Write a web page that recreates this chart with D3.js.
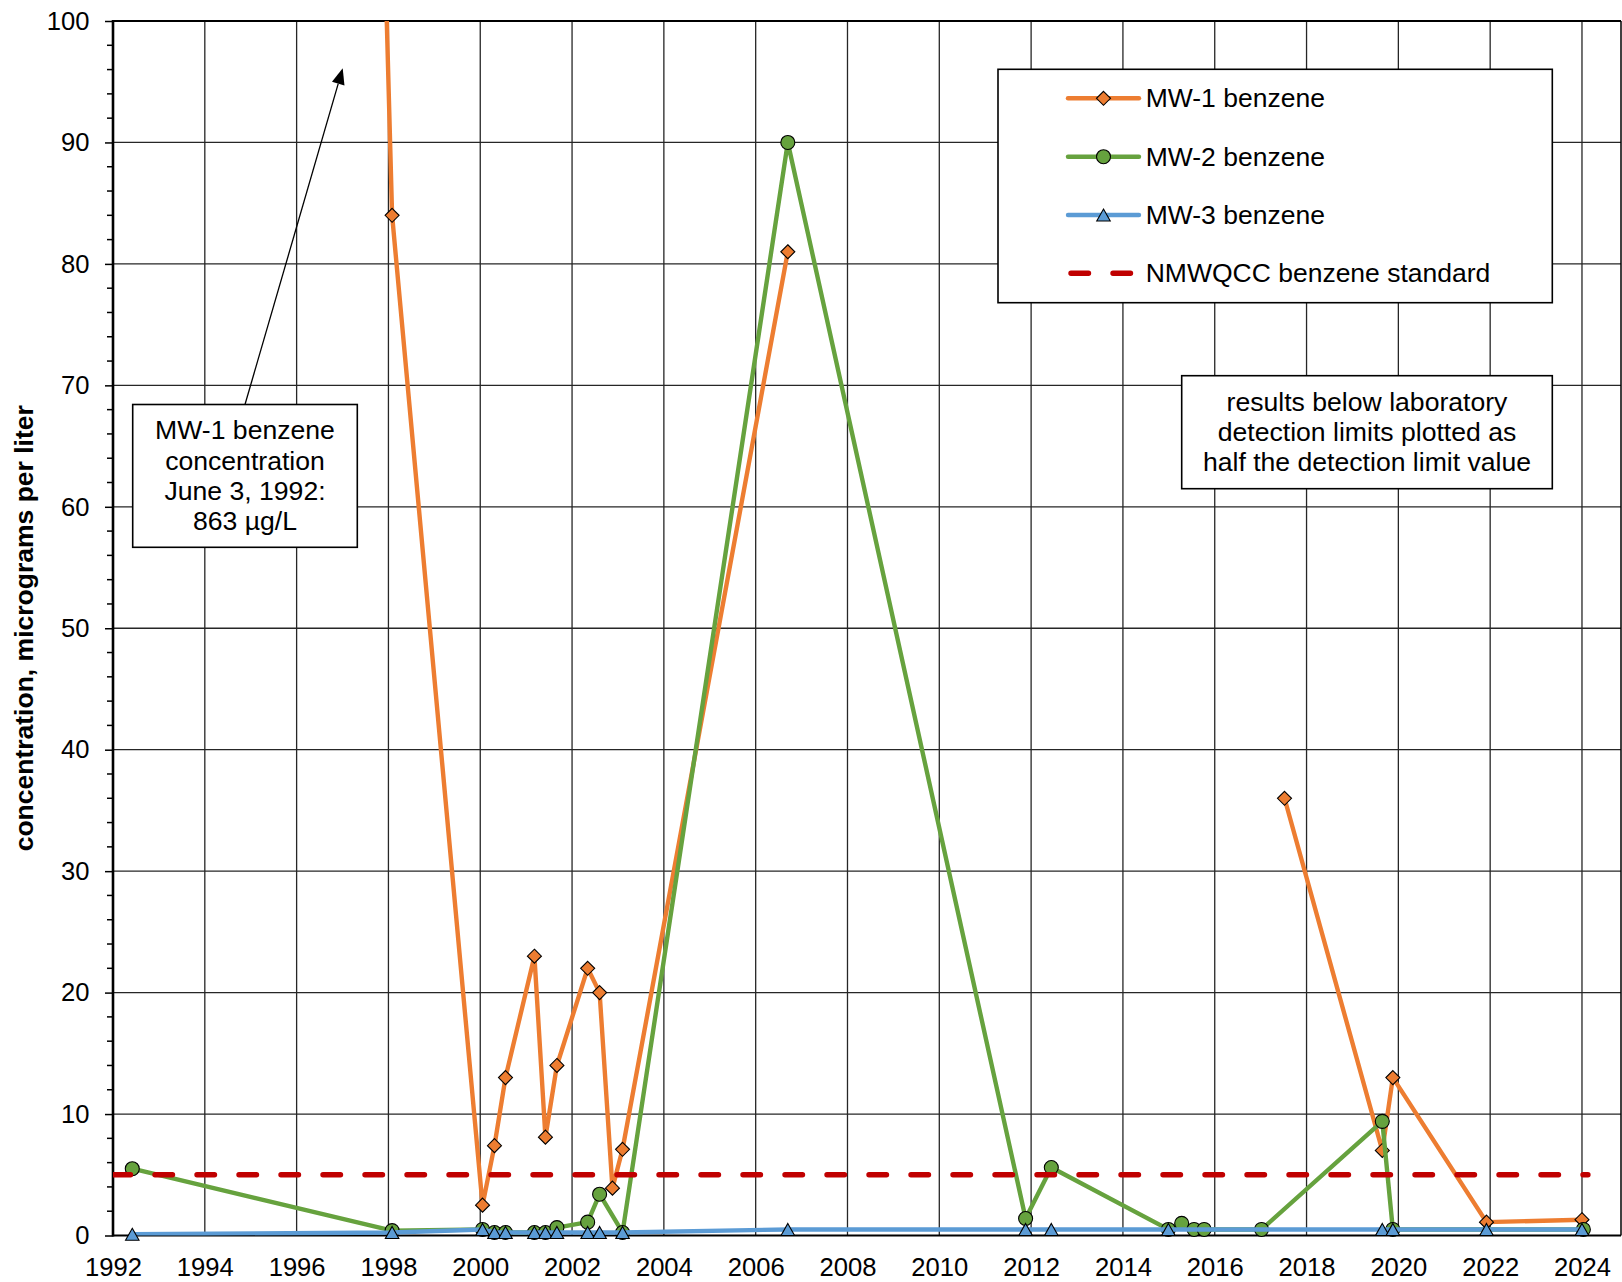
<!DOCTYPE html>
<html><head><meta charset="utf-8">
<script src="https://cdn.jsdelivr.net/npm/d3@7"></script>
<style>
body{margin:0;background:#fff}
svg{display:block}
text{font-family:"Liberation Sans",Arial,sans-serif;fill:#000}
</style>
</head><body>
<svg id="chart" width="1622" height="1282"></svg>
<script>
// ---------- data ----------
const mw1Dates  = [1992.42, 1998.08, 2000.05, 2000.31, 2000.55, 2001.18, 2001.42, 2001.67, 2002.34, 2002.60, 2002.88, 2003.10, 2006.70, 2011.88, 2017.52, 2019.65, 2019.88, 2021.92, 2024.00];
const mw1Values = [863, 84, 2.5, 7.4, 13, 23, 8.1, 14, 22, 20, 3.9, 7.1, 81, null, 36, 7.0, 13, 1.1, 1.3];

const mw2Dates  = [1992.42, 1998.08, 2000.05, 2000.31, 2000.55, 2001.18, 2001.42, 2001.67, 2002.34, 2002.60, 2003.10, 2006.70, 2011.88, 2012.44, 2014.99, 2015.28, 2015.55, 2015.77, 2017.02, 2019.65, 2019.88, 2024.03];
const mw2Values = [5.5, 0.4, 0.5, 0.25, 0.25, 0.25, 0.25, 0.65, 1.1, 3.4, 0.25, 90, 1.4, 5.6, 0.5, 1.0, 0.5, 0.5, 0.5, 9.4, 0.5, 0.5];

const mw3Dates  = [1992.42, 1998.08, 2000.05, 2000.31, 2000.55, 2001.18, 2001.42, 2001.67, 2002.34, 2002.60, 2003.10, 2006.70, 2011.88, 2012.44, 2014.99, 2019.65, 2019.88, 2021.92, 2024.00];
const mw3Values = [0.1, 0.25, 0.5, 0.25, 0.25, 0.25, 0.25, 0.25, 0.25, 0.25, 0.25, 0.5, 0.5, 0.5, 0.5, 0.5, 0.5, 0.5, 0.5];

const stdDates  = [1992.0, 2024.13];
const stdValues = [5, 5];

const xTicks = [1992,1994,1996,1998,2000,2002,2004,2006,2008,2010,2012,2014,2016,2018,2020,2022,2024];
const yTicks = [0,10,20,30,40,50,60,70,80,90,100];
const yMinorTicks = d3.range(0, 100, 2).filter(v => v % 10 !== 0);

const seriesNames = ["MW-1 benzene","MW-2 benzene","MW-3 benzene","NMWQCC benzene standard"];
const yTitle = "concentration, micrograms per liter";
const note1 = ["MW-1 benzene","concentration","June 3, 1992:","863 µg/L"];
const note2 = ["results below laboratory","detection limits plotted as","half the detection limit value"];

// ---------- layout ----------
const L = 113, R = 1621, T = 21, B = 1235.5;
const x = d3.scaleLinear().domain([1992, 2024.85]).range([L, R]);
const y = d3.scaleLinear().domain([0, 100]).range([B, T]);

const COL1 = "#ED7D31", COL2 = "#66A23E", COL3 = "#5B9BD5", COLS = "#C00000";
const LW = 4.4, MS = 7;

const svg = d3.select("#chart");
svg.append("rect").attr("width",1622).attr("height",1282).attr("fill","#fff");

svg.append("defs").append("clipPath").attr("id","plotclip")
  .append("rect").attr("x",L).attr("y",T).attr("width",R-L).attr("height",B-T);

// gridlines
const grid = svg.append("g");
grid.selectAll("line.h").data(yTicks.filter(v=>v>0 && v<100)).join("line")
  .attr("x1",L).attr("x2",R).attr("y1",d=>y(d)).attr("y2",d=>y(d))
  .attr("stroke","#262626").attr("stroke-width",1.3);
grid.selectAll("line.v").data(xTicks.filter(v=>v>1992)).join("line")
  .attr("x1",d=>x(d)).attr("x2",d=>x(d)).attr("y1",T).attr("y2",B)
  .attr("stroke","#262626").attr("stroke-width",1.3);

// borders
svg.append("line").attr("x1",L).attr("x2",R).attr("y1",T).attr("y2",T).attr("stroke","#000").attr("stroke-width",2);
svg.append("line").attr("x1",R).attr("x2",R).attr("y1",T).attr("y2",B).attr("stroke","#000").attr("stroke-width",1.5);

// y axis
const yAxis = d3.axisLeft(y).tickValues(yTicks).tickSize(8).tickPadding(15.5).tickFormat(d3.format("d"));
const gy = svg.append("g").attr("transform",`translate(${L},0)`).call(yAxis);
gy.select(".domain").remove();
gy.selectAll(".tick line").attr("stroke","#000").attr("stroke-width",1.5);
gy.selectAll(".tick text").style("font-size","25.6px").attr("fill","#000").attr("font-family",null);
svg.append("g").selectAll("line").data(yMinorTicks).join("line")
  .attr("x1",L-6).attr("x2",L).attr("y1",d=>y(d)).attr("y2",d=>y(d))
  .attr("stroke","#000").attr("stroke-width",1.5);
svg.append("line").attr("x1",L).attr("x2",L).attr("y1",T-1).attr("y2",B+1).attr("stroke","#000").attr("stroke-width",2.6);

// x axis
const xAxis = d3.axisBottom(x).tickValues(xTicks).tickSize(0).tickPadding(22.8).tickFormat(d3.format("d"));
const gx = svg.append("g").attr("transform",`translate(0,${B})`).call(xAxis);
gx.select(".domain").remove();
gx.selectAll(".tick text").style("font-size","25.6px").attr("fill","#000").attr("font-family",null);
svg.append("line").attr("x1",L).attr("x2",R).attr("y1",B).attr("y2",B).attr("stroke","#000").attr("stroke-width",2.2);

// y title
svg.append("text").attr("transform",`translate(33,${(T+B)/2}) rotate(-90)`)
  .attr("text-anchor","middle").style("font-size","26.5px").style("font-weight","bold").text(yTitle);

// series
function zipS(ds, vs){ return ds.map((d,i)=>({x:d, y:vs[i]})); }
const s1 = zipS(mw1Dates, mw1Values), s2 = zipS(mw2Dates, mw2Values), s3 = zipS(mw3Dates, mw3Values), s4 = zipS(stdDates, stdValues);
const line = d3.line().defined(d=>d.y!=null).x(d=>x(d.x)).y(d=>y(d.y));

const plot = svg.append("g");
function drawLine(data, col){
  plot.append("path").datum(data).attr("clip-path","url(#plotclip)")
    .attr("d",line).attr("fill","none").attr("stroke",col).attr("stroke-width",LW)
    .attr("stroke-linejoin","round").attr("stroke-linecap","round");
}
function inPlot(d){ return d.y!=null && d.y<=100; }
const diamond = s => `M0,${-s}L${s},0L0,${s}L${-s},0Z`;
const tri = (w,h) => `M0,${-h/2}L${w/2},${h/2}L${-w/2},${h/2}Z`;

drawLine(s1, COL1);
plot.append("g").selectAll("path").data(s1.filter(inPlot)).join("path")
  .attr("transform",d=>`translate(${x(d.x)},${y(d.y)})`).attr("d",diamond(MS))
  .attr("fill",COL1).attr("stroke","#000").attr("stroke-width",1.1);

drawLine(s2, COL2);
plot.append("g").selectAll("circle").data(s2.filter(inPlot)).join("circle")
  .attr("cx",d=>x(d.x)).attr("cy",d=>y(d.y)).attr("r",MS)
  .attr("fill",COL2).attr("stroke","#000").attr("stroke-width",1.1);

drawLine(s3, COL3);
plot.append("g").selectAll("path").data(s3.filter(inPlot)).join("path")
  .attr("transform",d=>`translate(${x(d.x)},${y(d.y)})`).attr("d",tri(13.5,12))
  .attr("fill",COL3).attr("stroke","#000").attr("stroke-width",1.1);

plot.append("path").datum(s4).attr("d",line).attr("fill","none").attr("stroke",COLS)
  .attr("stroke-width",5.4).attr("stroke-linecap","round").attr("stroke-dasharray","17.5,24.5")
  .attr("clip-path","url(#plotclip)");

// legend
const lg = svg.append("g");
lg.append("rect").attr("x",998).attr("y",69.3).attr("width",1552.3-998).attr("height",302.7-69.3)
  .attr("fill","#fff").attr("stroke","#000").attr("stroke-width",1.6);
const rows = [98.3,156.7,215,273.3];
const cols = [COL1,COL2,COL3,COLS];
rows.forEach((ry,i)=>{
  const ln = lg.append("line").attr("x1",1068).attr("x2",1139).attr("y1",ry).attr("y2",ry)
    .attr("stroke",cols[i]).attr("stroke-width", i===3?5.4:LW).attr("stroke-linecap","round");
  if(i===3) ln.attr("stroke-dasharray","17.5,24.5").attr("x1",1071);
  if(i===0) lg.append("path").attr("transform",`translate(1103.5,${ry})`).attr("d",diamond(MS)).attr("fill",COL1).attr("stroke","#000").attr("stroke-width",1.1);
  if(i===1) lg.append("circle").attr("cx",1103.5).attr("cy",ry).attr("r",MS).attr("fill",COL2).attr("stroke","#000").attr("stroke-width",1.1);
  if(i===2) lg.append("path").attr("transform",`translate(1103.5,${ry})`).attr("d",tri(13.5,12)).attr("fill",COL3).attr("stroke","#000").attr("stroke-width",1.1);
  lg.append("text").attr("x",1145.7).attr("y",ry+8.9).style("font-size","26.5px").text(seriesNames[i]);
});

// annotation 1 with arrow
const a1 = svg.append("g");
const ax0 = 245, ay0 = 404.5, ax1 = 342.7, ay1 = 68.3;
const ang = Math.atan2(ay1-ay0, ax1-ax0), hl = 16, hw = 6.5;
const bx = ax1 - hl*Math.cos(ang), by = ay1 - hl*Math.sin(ang);
a1.append("line").attr("x1",ax0).attr("y1",ay0).attr("x2",bx).attr("y2",by).attr("stroke","#000").attr("stroke-width",1.3);
a1.append("path").attr("d",`M${ax1},${ay1}L${bx - hw*Math.sin(ang)},${by + hw*Math.cos(ang)}L${bx + hw*Math.sin(ang)},${by - hw*Math.cos(ang)}Z`).attr("fill","#000");
a1.append("rect").attr("x",132.7).attr("y",404.5).attr("width",357.3-132.7).attr("height",547.3-404.5)
  .attr("fill","#fff").attr("stroke","#000").attr("stroke-width",1.6);
note1.forEach((t,i)=>a1.append("text").attr("x",245).attr("y",439.3+i*30.3).attr("text-anchor","middle").style("font-size","26.6px").text(t));

// annotation 2
const a2 = svg.append("g");
a2.append("rect").attr("x",1181.7).attr("y",375.7).attr("width",1552.3-1181.7).attr("height",488.7-375.7)
  .attr("fill","#fff").attr("stroke","#000").attr("stroke-width",1.6);
note2.forEach((t,i)=>a2.append("text").attr("x",1367).attr("y",411+i*30).attr("text-anchor","middle").style("font-size","26.6px").text(t));
</script>
</body></html>
